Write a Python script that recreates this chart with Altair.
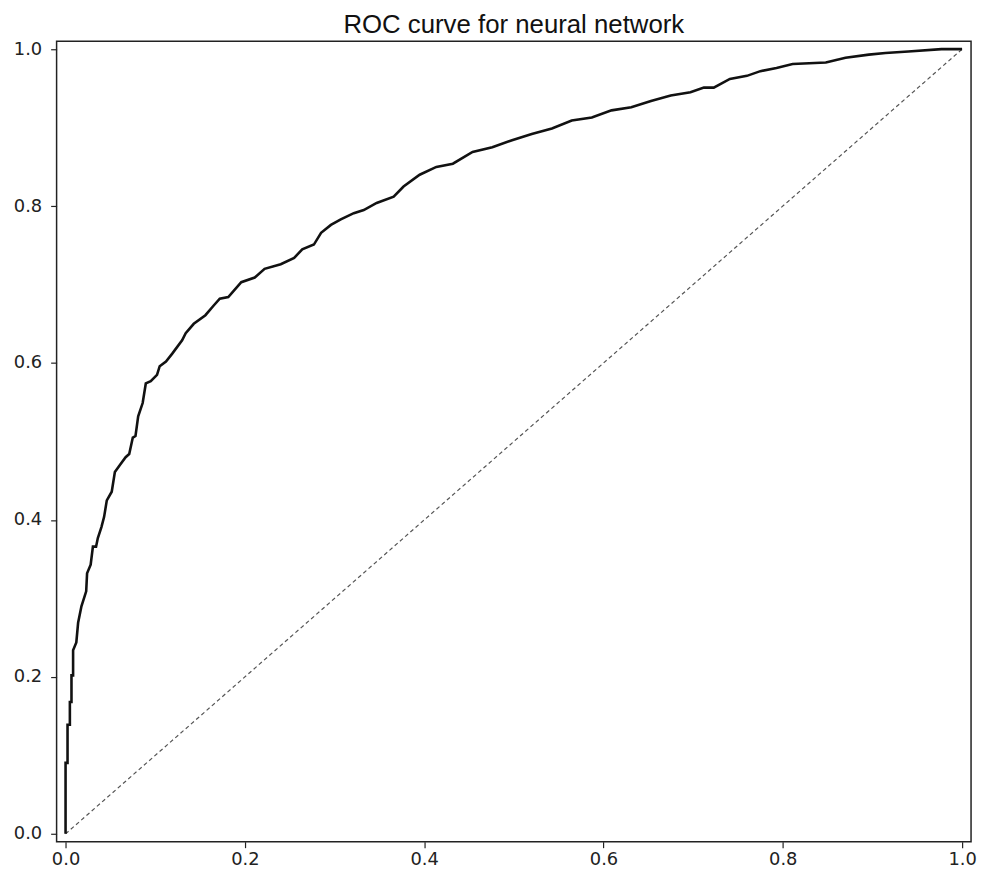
import altair as alt
import pandas as pd

# ROC curve points (false positive rate, true positive rate)
fpr = [0.0, 0.0, 0.0022, 0.0022, 0.0048, 0.0048, 0.0066, 0.0066, 0.0084, 0.0084,
       0.012, 0.014, 0.0177, 0.023, 0.024, 0.028, 0.0305, 0.034, 0.036, 0.040,
       0.043, 0.046, 0.0515, 0.055, 0.060, 0.067, 0.071, 0.075, 0.078, 0.081,
       0.086, 0.0895, 0.095, 0.102, 0.105, 0.112, 0.119, 0.130, 0.134, 0.143,
       0.156, 0.165, 0.172, 0.1815, 0.196, 0.211, 0.222, 0.240, 0.255, 0.264,
       0.277, 0.285, 0.296, 0.307, 0.3215, 0.3326, 0.347, 0.366, 0.377, 0.395,
       0.4136, 0.432, 0.454, 0.476, 0.498, 0.520, 0.5425, 0.5646, 0.587, 0.609,
       0.631, 0.653, 0.675, 0.697, 0.712, 0.723, 0.741, 0.760, 0.775, 0.793,
       0.811, 0.848, 0.870, 0.896, 0.9145, 0.940, 0.977, 1.0]
tpr = [0.0, 0.0905, 0.0905, 0.139, 0.139, 0.168, 0.168, 0.202, 0.202, 0.234,
       0.244, 0.269, 0.290, 0.309, 0.332, 0.343, 0.366, 0.366, 0.377, 0.391,
       0.404, 0.425, 0.436, 0.461, 0.469, 0.480, 0.484, 0.505, 0.507, 0.532,
       0.549, 0.574, 0.577, 0.585, 0.596, 0.602, 0.612, 0.629, 0.638, 0.650,
       0.661, 0.673, 0.682, 0.684, 0.703, 0.709, 0.720, 0.726, 0.734, 0.745,
       0.751, 0.766, 0.776, 0.783, 0.791, 0.795, 0.804, 0.812, 0.825, 0.840,
       0.850, 0.854, 0.869, 0.875, 0.884, 0.892, 0.899, 0.909, 0.913, 0.922,
       0.926, 0.934, 0.941, 0.945, 0.951, 0.951, 0.962, 0.966, 0.972, 0.976,
       0.981, 0.983, 0.989, 0.993, 0.995, 0.997, 1.0, 1.0]

diag_x = [0.0, 1.0]
diag_y = [0.0, 1.0]

tick_values = [0.0, 0.2, 0.4, 0.6, 0.8, 1.0]
title_text = "ROC curve for neural network"

roc_df = pd.DataFrame({"fpr": fpr, "tpr": tpr, "i": list(range(len(fpr)))})
diag_df = pd.DataFrame({"fpr": diag_x, "tpr": diag_y, "i": [0, 1]})

x_scale = alt.Scale(domain=[-0.01, 1.01], nice=False, zero=False)
y_scale = alt.Scale(domain=[-0.01, 1.01], nice=False, zero=False)

x_axis = alt.Axis(values=tick_values, format=".1f", title=None, grid=False,
                  domain=False, tickSize=6, tickColor="#222", tickWidth=1.2,
                  labelFont="DejaVu Sans", labelFontSize=18, labelColor="#222",
                  labelPadding=3)
y_axis = alt.Axis(values=tick_values, format=".1f", title=None, grid=False,
                  domain=False, tickSize=6, tickColor="#222", tickWidth=1.2,
                  labelFont="DejaVu Sans", labelFontSize=18, labelColor="#222",
                  labelPadding=9)

diag = alt.Chart(diag_df).mark_line(
    color="#555", strokeWidth=1.2, strokeDash=[4, 3]
).encode(
    x=alt.X("fpr:Q", scale=x_scale, axis=x_axis),
    y=alt.Y("tpr:Q", scale=y_scale, axis=y_axis),
    order="i:Q",
)

roc = alt.Chart(roc_df).mark_line(
    color="#111", strokeWidth=2.6, strokeJoin="miter"
).encode(
    x=alt.X("fpr:Q", scale=x_scale, axis=x_axis),
    y=alt.Y("tpr:Q", scale=y_scale, axis=y_axis),
    order="i:Q",
)

chart = alt.layer(diag, roc).properties(
    width=922,
    height=807,
    title=alt.TitleParams(
        text=title_text, font="Liberation Sans", fontSize=26,
        fontWeight="normal", color="#111", anchor="middle", offset=2,
    ),
    autosize=alt.AutoSizeParams(type="none"),
    padding={"left": 49, "top": 30, "right": 6, "bottom": 33},
    background="white",
).configure_view(
    stroke="#222", strokeWidth=1.5
)

chart.save("out.html", embed_options={"renderer": "svg", "actions": False})
